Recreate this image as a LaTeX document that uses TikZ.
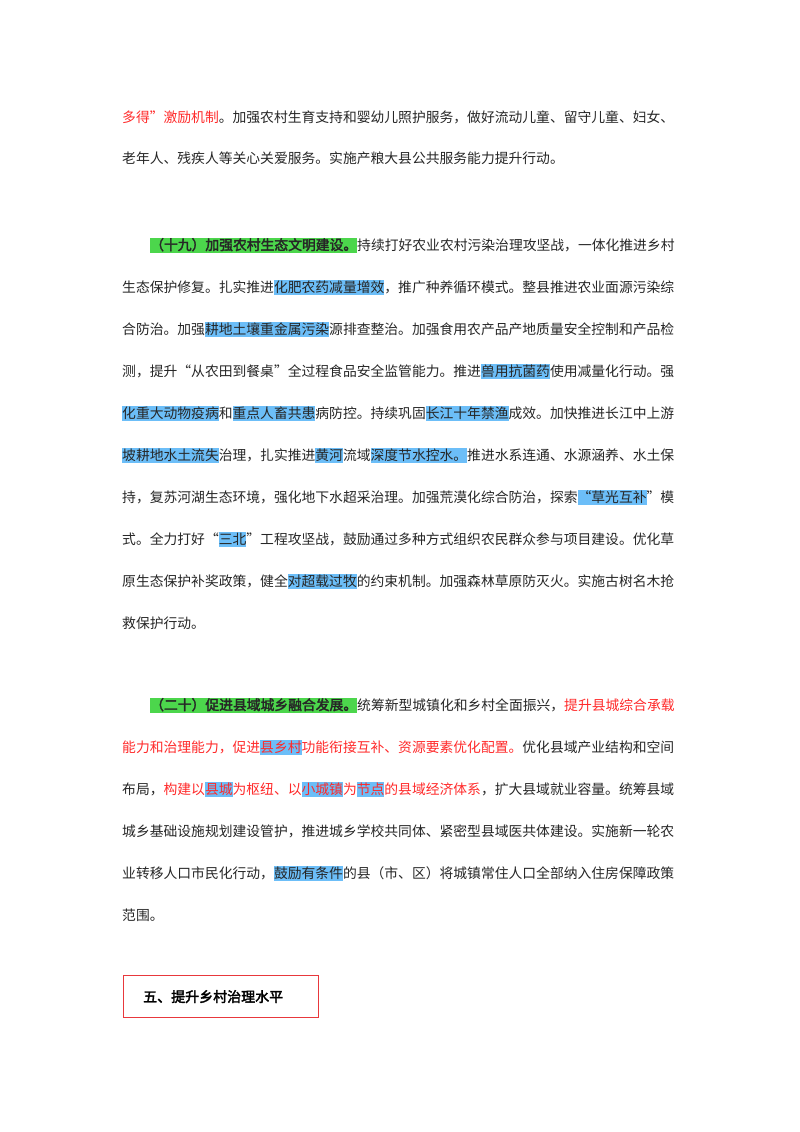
\documentclass[tikz,border=0pt]{standalone}
\usepackage{fontspec}
\usepackage{xcolor}
\setmainfont{Noto Sans CJK SC}[AutoFakeBold=2.5]
\definecolor{hlblue}{HTML}{6CBEF8}
\definecolor{hlgreen}{HTML}{4CD64C}
\definecolor{txtred}{HTML}{FF2A2A}
\definecolor{boxred}{HTML}{E8383C}
\newcommand\hsp{\rule[-0.22em]{0pt}{1.08em}}
\newcommand\hlb[1]{{\setlength\fboxsep{0pt}\colorbox{hlblue}{\hsp#1}}}
\newcommand\hlg[1]{{\setlength\fboxsep{0pt}\colorbox{hlgreen}{\hsp\bfseries#1}}}
\newcommand\rd[1]{{\color{txtred}#1}}
\newcommand\FullLn[4]{\node[line] (#1) at (#2,#3+5) {\hbox to \dimexpr690pt-#2pt\relax{#4}};}
\newcommand\PartLn[4]{\node[line] (#1) at (#2,#3+5) {#4};}
\begin{document}
\XeTeXlinebreaklocale "zh"
\XeTeXlinebreakskip=0pt plus 3pt
\begin{tikzpicture}[x=1pt,y=-1pt,
  line/.style={anchor=base west,inner sep=0pt,font=\fontsize{13.8pt}{16pt}\selectfont,text=black!85}]
\useasboundingbox (0,0) rectangle (800,1132);
\fill[white] (0,0) rectangle (800,1132);
% previous section tail
\FullLn{a1}{122}{117}{\rd{多得”激励机制}。加强农村生育支持和婴幼儿照护服务，做好流动儿童、留守儿童、妇女、}
\PartLn{a2}{122}{158}{老年人、残疾人等关心关爱服务。实施产粮大县公共服务能力提升行动。}
% (19)
\FullLn{b1}{150}{245}{\hlg{（十九）加强农村生态文明建设。}持续打好农业农村污染治理攻坚战，一体化推进乡村}
\FullLn{b2}{122}{287}{生态保护修复。扎实推进\hlb{化肥农药减量增效}，推广种养循环模式。整县推进农业面源污染综}
\FullLn{b3}{122}{329}{合防治。加强\hlb{耕地土壤重金属污染}源排查整治。加强食用农产品产地质量安全控制和产品检}
\FullLn{b4}{122}{371}{测，提升“从农田到餐桌”全过程食品安全监管能力。推进\hlb{兽用抗菌药}使用减量化行动。强}
\FullLn{b5}{122}{413}{\hlb{化重大动物疫病}和\hlb{重点人畜共患}病防控。持续巩固\hlb{长江十年禁渔}成效。加快推进长江中上游}
\FullLn{b6}{122}{455}{\hlb{坡耕地水土流失}治理，扎实推进\hlb{黄河}流域\hlb{深度节水控水。}推进水系连通、水源涵养、水土保}
\FullLn{b7}{122}{497}{持，复苏河湖生态环境，强化地下水超采治理。加强荒漠化综合防治，探索\hlb{“草光互补}”模}
\FullLn{b8}{122}{539}{式。全力打好“\hlb{三北}”工程攻坚战，鼓励通过多种方式组织农民群众参与项目建设。优化草}
\FullLn{b9}{122}{581}{原生态保护补奖政策，健全\hlb{对超载过牧}的约束机制。加强森林草原防灭火。实施古树名木抢}
\PartLn{b10}{122}{623}{救保护行动。}
% (20)
\FullLn{c1}{150}{705}{\hlg{（二十）促进县域城乡融合发展。}统筹新型城镇化和乡村全面振兴，\rd{提升县城综合承载}}
\FullLn{c2}{122}{747}{\rd{能力和治理能力，促进\hlb{县乡村}功能衔接互补、资源要素优化配置。}优化县域产业结构和空间}
\FullLn{c3}{122}{789}{布局，\rd{构建以\hlb{县城}为枢纽、以\hlb{小城镇}为\hlb{节点}的县域经济体系}，扩大县域就业容量。统筹县域}
\FullLn{c4}{122}{831}{城乡基础设施规划建设管护，推进城乡学校共同体、紧密型县域医共体建设。实施新一轮农}
\FullLn{c5}{122}{873}{业转移人口市民化行动，\hlb{鼓励有条件}的县（市、区）将城镇常住人口全部纳入住房保障政策}
\PartLn{c6}{122}{915}{范围。}
% heading box
\node[draw=boxred,line width=1.2pt,minimum width=195pt,minimum height=42pt,inner sep=0pt,
  anchor=north west] (box) at (123,975) {};
\node[anchor=west,inner sep=0pt,font=\fontsize{14pt}{16pt}\selectfont\bfseries] (title)
  at ([xshift=20pt]box.west) {五、提升乡村治理水平};
\end{tikzpicture}
\end{document}
